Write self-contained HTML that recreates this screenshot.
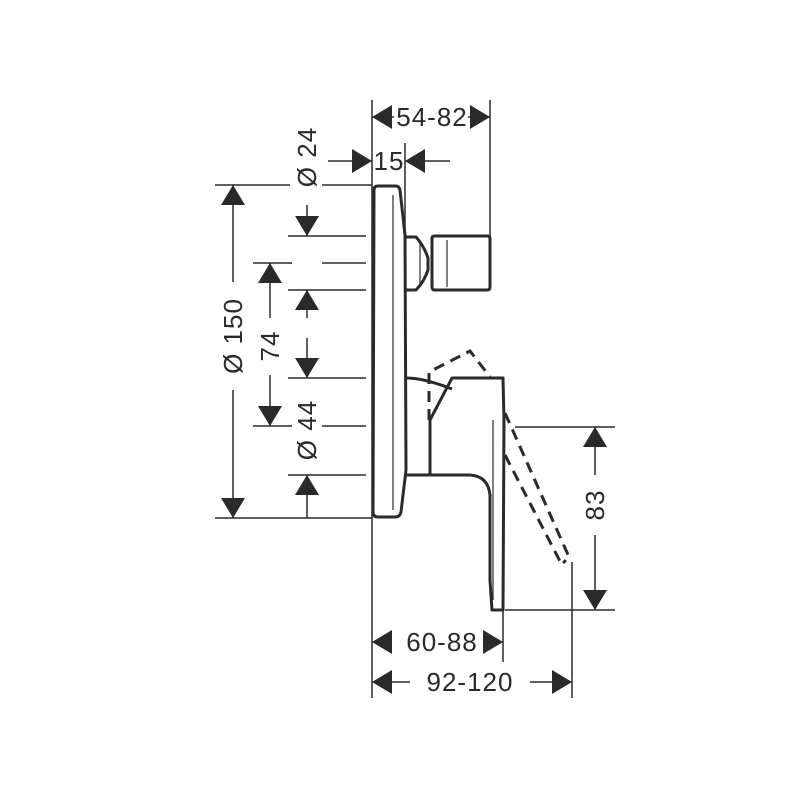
<!DOCTYPE html>
<html><head><meta charset="utf-8"><style>html,body{margin:0;padding:0;background:#fff}svg{display:block}</style></head>
<body>
<svg width="800" height="800" viewBox="0 0 800 800" xmlns="http://www.w3.org/2000/svg">
<defs>
<marker id="a" viewBox="0 0 20 24" refX="20" refY="12" markerWidth="20" markerHeight="24" markerUnits="userSpaceOnUse" orient="auto"><path d="M0,0L20,12L0,24Z" fill="#2a2a2a"/></marker>
</defs>
<g stroke="#2a2a2a" stroke-width="1.5" fill="none">
<line x1="372" y1="100" x2="372" y2="698"/>
<line x1="490" y1="100" x2="490" y2="237"/>
<line x1="405" y1="143" x2="405" y2="237"/>
<line x1="215" y1="185" x2="290" y2="185"/><line x1="322" y1="185" x2="372" y2="185"/>
<line x1="288" y1="236" x2="366" y2="236"/>
<line x1="253" y1="263" x2="292" y2="263"/><line x1="322" y1="263" x2="366" y2="263"/>
<line x1="288" y1="290" x2="366" y2="290"/>
<line x1="288" y1="378" x2="366" y2="378"/>
<line x1="253" y1="426" x2="292" y2="426"/><line x1="322" y1="426" x2="366" y2="426"/>
<line x1="288" y1="475" x2="366" y2="475"/>
<line x1="215" y1="518" x2="372" y2="518"/>
<line x1="515" y1="427" x2="615" y2="427"/>
<line x1="505" y1="610" x2="615" y2="610"/>
<line x1="503" y1="610" x2="503" y2="662"/>
<line x1="572" y1="562" x2="572" y2="698"/>
<line x1="394" y1="117" x2="372" y2="117" marker-end="url(#a)"/>
<line x1="468" y1="117" x2="490" y2="117" marker-end="url(#a)"/>
<line x1="328" y1="161" x2="372" y2="161" marker-end="url(#a)"/>
<line x1="450" y1="161" x2="405" y2="161" marker-end="url(#a)"/>
<line x1="233" y1="282" x2="233" y2="185" marker-end="url(#a)"/>
<line x1="233" y1="390" x2="233" y2="518" marker-end="url(#a)"/>
<line x1="307" y1="205" x2="307" y2="236" marker-end="url(#a)"/>
<line x1="270" y1="318" x2="270" y2="263" marker-end="url(#a)"/>
<line x1="270" y1="375" x2="270" y2="426" marker-end="url(#a)"/>
<line x1="307" y1="318" x2="307" y2="290" marker-end="url(#a)"/>
<line x1="307" y1="338" x2="307" y2="378" marker-end="url(#a)"/>
<line x1="307" y1="518" x2="307" y2="475" marker-end="url(#a)"/>
<line x1="595" y1="475" x2="595" y2="427" marker-end="url(#a)"/>
<line x1="595" y1="535" x2="595" y2="610" marker-end="url(#a)"/>
<line x1="392" y1="642" x2="372" y2="642" marker-end="url(#a)"/>
<line x1="483" y1="642" x2="503" y2="642" marker-end="url(#a)"/>
<line x1="410" y1="682" x2="372" y2="682" marker-end="url(#a)"/>
<line x1="530" y1="682" x2="572" y2="682" marker-end="url(#a)"/>
</g>
<g stroke="#2a2a2a" stroke-width="3" fill="none" stroke-linejoin="round">
<path d="M374,190 Q374,186 378,186 L396,186 Q399,186 400,190 L405,235 L406,470 L401,512 Q400,517 395,517 L378,517 Q373,517 373,512 Z"/>
<path d="M406,237 L416,237 Q424,246 428,258 L428,270 Q424,282 416,290 L406,290"/>
<path d="M432,238 Q432,236 435,236 L488,236 Q490,236 490,239 L490,287 Q490,290 487,290 L435,290 Q432,290 432,287 Z"/>
<path d="M406,378 Q424,378 452,389"/>
<path d="M406,475 L429,475"/>
<path d="M452,378 L503,378 L504,420 L503,610 L492,610 L490,580 Q490,500 490,495 Q488,476 470,475 L430,475 L430,420 Z"/>
</g>
<g stroke="#2a2a2a" stroke-width="1.2" fill="none">
<line x1="393" y1="195" x2="393" y2="510"/>
<line x1="420" y1="244" x2="420" y2="284"/>
<line x1="447" y1="240" x2="447" y2="287"/>
<line x1="493" y1="420" x2="493" y2="600"/>
</g>
<g stroke="#2a2a2a" stroke-width="3" fill="none" stroke-dasharray="11,7">
<path d="M429,420 L429,372 L470,351 L490,377"/>
<path d="M505,413 L569,557 L563,563"/>
<path d="M505,455 L562,565"/>
</g>
<g font-family="'Liberation Sans',sans-serif" font-size="26" letter-spacing="1" fill="#2a2a2a" text-anchor="middle">
<text x="432" y="126">54-82</text>
<text x="389" y="170">15</text>
<text x="442" y="651">60-88</text>
<text x="470" y="691">92-120</text>
<text transform="translate(242,336) rotate(-90)">Ø 150</text>
<text transform="translate(279,346) rotate(-90)">74</text>
<text transform="translate(316,157) rotate(-90)">Ø 24</text>
<text transform="translate(316,430) rotate(-90)">Ø 44</text>
<text transform="translate(604,505) rotate(-90)">83</text>
</g>
</svg>
</body></html>
